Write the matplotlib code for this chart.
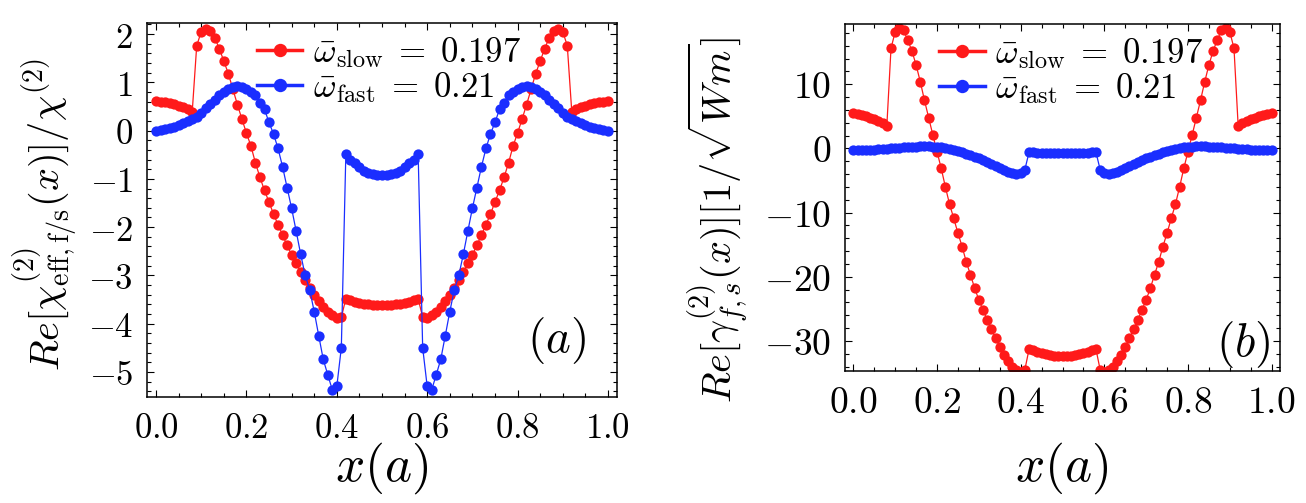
import numpy as np
import matplotlib
matplotlib.use("Agg")
import matplotlib.pyplot as plt
from matplotlib.ticker import MultipleLocator, FuncFormatter

plt.rcParams["mathtext.fontset"] = "cm"
plt.rcParams["font.family"] = "serif"
plt.rcParams["font.serif"] = ["DejaVu Serif"]

# sampling grid along the unit cell, x in units of a
x = np.linspace(0.0, 1.0, 101)

# (a) Re[chi_eff^(2)(x)] / chi^(2)
chi_slow = [
    0.61, 0.60, 0.59, 0.57, 0.55, 0.52, 0.48, 0.44, 0.38, 1.76,
    2.05, 2.11, 2.06, 1.92, 1.70, 1.44, 1.18, 0.86, 0.54, 0.24,
    -0.05, -0.32, -0.67, -0.97, -1.24, -1.48, -1.73, -1.95, -2.16, -2.38,
    -2.57, -2.75, -2.93, -3.10, -3.26, -3.40, -3.53, -3.65, -3.75, -3.83,
    -3.88, -3.87, -3.48, -3.52, -3.55, -3.57, -3.59, -3.60, -3.61, -3.62,
    -3.62,
    -3.62, -3.61, -3.60, -3.59, -3.57, -3.55, -3.52, -3.48, -3.87,
    -3.88, -3.83, -3.75, -3.65, -3.53, -3.40, -3.26, -3.10, -2.93, -2.75,
    -2.57, -2.38, -2.16, -1.95, -1.73, -1.48, -1.24, -0.97, -0.67, -0.32,
    -0.05, 0.24, 0.54, 0.86, 1.18, 1.44, 1.70, 1.92, 2.06, 2.11,
    2.05, 1.76, 0.38, 0.44, 0.48, 0.52, 0.55, 0.57, 0.59, 0.60,
    0.61,
]
chi_fast = [
    0.00, 0.01, 0.03, 0.05, 0.08, 0.11, 0.15, 0.19, 0.24, 0.29,
    0.37, 0.46, 0.55, 0.64, 0.73, 0.81, 0.87, 0.91, 0.92, 0.91,
    0.86, 0.80, 0.74, 0.58, 0.44, 0.17, -0.07, -0.37, -0.75, -1.18,
    -1.61, -2.08, -2.56, -3.00, -3.30, -3.75, -4.25, -4.74, -5.06, -5.37,
    -5.30, -4.50, -0.48, -0.60, -0.68, -0.76, -0.83, -0.88, -0.90, -0.91,
    -0.91,
    -0.91, -0.90, -0.88, -0.83, -0.76, -0.68, -0.60, -0.48, -4.50,
    -5.30, -5.37, -5.06, -4.74, -4.25, -3.75, -3.30, -3.00, -2.56, -2.08,
    -1.61, -1.18, -0.75, -0.37, -0.07, 0.17, 0.44, 0.58, 0.74, 0.80,
    0.86, 0.91, 0.92, 0.91, 0.87, 0.81, 0.73, 0.64, 0.55, 0.46,
    0.37, 0.29, 0.24, 0.19, 0.15, 0.11, 0.08, 0.05, 0.03, 0.01,
    0.00,
]

# (b) Re[gamma^(2)_{f,s}(x)] in 1/sqrt(W m)
gamma_slow = [
    5.45, 5.30, 5.15, 4.98, 4.80, 4.58, 4.32, 3.98, 3.50, 15.6,
    18.2, 18.8, 18.4, 16.9, 15.2, 13.0, 10.4, 7.5, 4.8, 2.1,
    -0.5, -3.1, -6.0, -8.7, -10.9, -13.2, -15.3, -17.7, -19.7, -21.8,
    -23.6, -25.2, -26.7, -28.2, -29.6, -30.9, -32.2, -33.2, -34.0, -34.5,
    -34.8, -34.5, -31.3, -31.5, -31.7, -31.9, -32.1, -32.2, -32.3, -32.4,
    -32.4,
    -32.4, -32.3, -32.2, -32.1, -31.9, -31.7, -31.5, -31.3, -34.5,
    -34.8, -34.5, -34.0, -33.2, -32.2, -30.9, -29.6, -28.2, -26.7, -25.2,
    -23.6, -21.8, -19.7, -17.7, -15.3, -13.2, -10.9, -8.7, -6.0, -3.1,
    -0.5, 2.1, 4.8, 7.5, 10.4, 13.0, 15.2, 16.9, 18.4, 18.8,
    18.2, 15.6, 3.50, 3.98, 4.32, 4.58, 4.80, 4.98, 5.15, 5.30,
    5.45,
]
gamma_fast = [
    -0.30, -0.28, -0.26, -0.23, -0.20, -0.17, -0.13, -0.09, -0.05, 0.00,
    0.05, 0.10, 0.15, 0.20, 0.25, 0.29, 0.32, 0.34, 0.33, 0.30,
    0.25, 0.18, 0.08, -0.05, -0.20, -0.38, -0.58, -0.80, -1.02, -1.26,
    -1.52, -1.80, -2.08, -2.38, -2.70, -3.02, -3.35, -3.62, -3.82, -3.92,
    -3.85, -3.30, -0.60, -0.62, -0.64, -0.66, -0.67, -0.68, -0.69, -0.70,
    -0.70,
    -0.70, -0.69, -0.68, -0.67, -0.66, -0.64, -0.62, -0.60, -3.30,
    -3.85, -3.92, -3.82, -3.62, -3.35, -3.02, -2.70, -2.38, -2.08, -1.80,
    -1.52, -1.26, -1.02, -0.80, -0.58, -0.38, -0.20, -0.05, 0.08, 0.18,
    0.25, 0.30, 0.33, 0.34, 0.32, 0.29, 0.25, 0.20, 0.15, 0.10,
    0.05, 0.00, -0.05, -0.09, -0.13, -0.17, -0.20, -0.23, -0.26, -0.28,
    -0.30,
]

legend_labels = [r"$\bar{\omega}_{\rm slow}\;=\;0.197$", r"$\bar{\omega}_{\rm fast}\;=\;0.21$"]
xticks = [0.0, 0.2, 0.4, 0.6, 0.8, 1.0]

RED = "#ff1a1a"
BLUE = "#1a2eff"


def style_axes(ax, xminor, yminor, ymajor, fs):
    for sp in ax.spines.values():
        sp.set_linewidth(1.1)
    ax.set_xlim(-0.02, 1.02)
    ax.set_xticks(xticks)
    ax.xaxis.set_minor_locator(MultipleLocator(xminor))
    ax.yaxis.set_major_locator(MultipleLocator(ymajor))
    ax.yaxis.set_minor_locator(MultipleLocator(yminor))
    ax.tick_params(which="both", direction="in", top=True, right=True, width=0.8)
    ax.tick_params(which="major", length=5, labelsize=fs, pad=10)
    ax.tick_params(which="minor", length=2.8)
    ax.xaxis.set_major_formatter(FuncFormatter(lambda v, p: "$%.1f$" % v))
    ax.yaxis.set_major_formatter(FuncFormatter(lambda v, p: "$%d$" % round(v)))


def draw(ax, ys, yf):
    kw = dict(marker="o", markersize=7.4, linewidth=0.9, markeredgewidth=0)
    ax.plot(x, ys, color=RED, label=legend_labels[0], **kw)
    ax.plot(x, yf, color=BLUE, label=legend_labels[1], **kw)


fig = plt.figure(figsize=(13.06, 5.03), dpi=100)
W, H = 1306.0, 503.0
ax1 = fig.add_axes([147 / W, 1 - 397 / H, 470 / W, 374 / H])
ax2 = fig.add_axes([845 / W, 1 - 371 / H, 435 / W, 347 / H])

draw(ax1, chi_slow, chi_fast)
ax1.set_ylim(-5.52, 2.23)
style_axes(ax1, 0.05, 0.2, 1, 25)

draw(ax2, gamma_slow, gamma_fast)
ax2.set_ylim(-34.7, 19.4)
style_axes(ax2, 0.05, 2, 10, 27)

for ax, cx in ((ax1, 0.515), (ax2, 0.52)):
    leg = ax.legend(loc="upper center", bbox_to_anchor=(cx, 0.985), frameon=False,
                    fontsize=25, markerscale=1.3, handlelength=1.3, handletextpad=0.3,
                    labelspacing=0.0, borderpad=0.1, borderaxespad=0.1)
    for ln in leg.get_lines():
        ln.set_linewidth(2.5)

ax1.text(557 / W, 1 - 341 / H, r"$(a)$", transform=fig.transFigure,
         fontsize=34, ha="center", va="center")
ax2.text(1243 / W, 1 - 345 / H, r"$(b)$", transform=fig.transFigure,
         fontsize=34, ha="center", va="center")

fig.text(382 / W, 1 - 468 / H, r"$x(a)$", fontsize=37, ha="center", va="center")
fig.text(1062 / W, 1 - 468 / H, r"$x(a)$", fontsize=37, ha="center", va="center")

fig.text(45 / W, 1 - 214 / H, r"$Re[\chi^{(2)}_{\rm eff,f/s}(x)]/\chi^{(2)}$",
         fontsize=29, rotation=90, ha="center", va="center")
fig.text(718 / W, 1 - 220 / H, r"$Re[\gamma^{(2)}_{f,s}(x)][1/\sqrt{Wm}]$",
         fontsize=29, rotation=90, ha="center", va="center")

fig.savefig("out.png", dpi=100)
